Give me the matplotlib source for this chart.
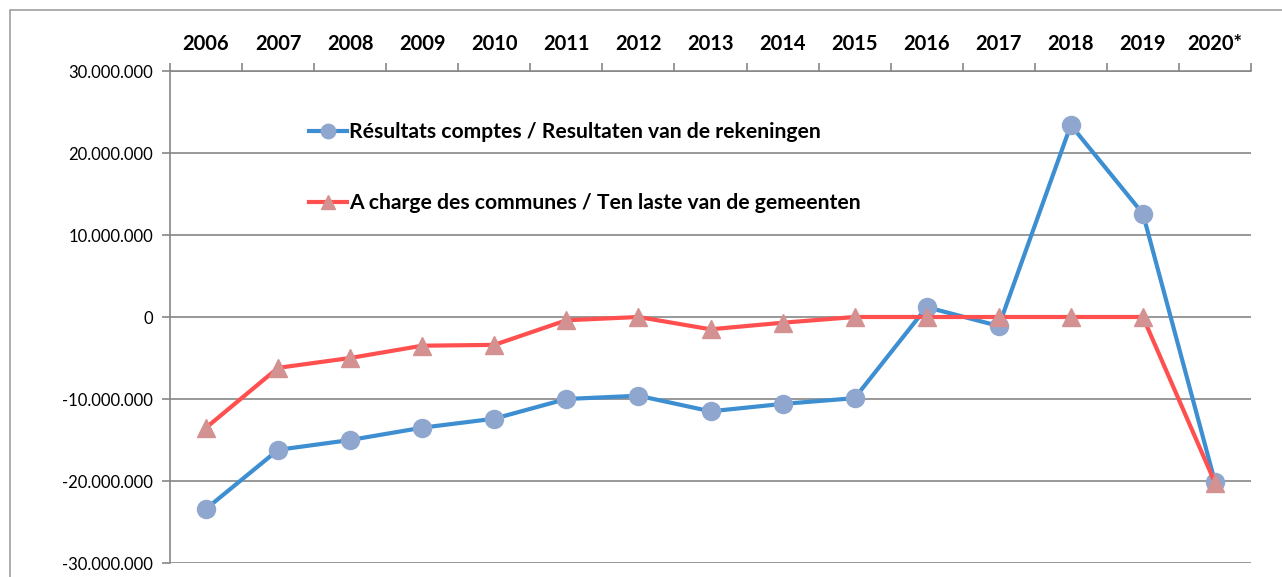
import matplotlib
matplotlib.use('Agg')
import matplotlib.pyplot as plt
from matplotlib.patches import Rectangle
from matplotlib.ticker import FuncFormatter, FixedLocator

plt.rcParams['font.family'] = ['Lato', 'DejaVu Sans']

YEARS = ['2006', '2007', '2008', '2009', '2010', '2011', '2012', '2013', '2014',
         '2015', '2016', '2017', '2018', '2019', '2020*']
RESULTATS = [-23.4e6, -16.2e6, -15.0e6, -13.5e6, -12.4e6, -10.0e6, -9.6e6, -11.5e6,
             -10.6e6, -9.9e6, 1.2e6, -1.1e6, 23.4e6, 12.6e6, -20.1e6]
COMMUNES = [-13.5e6, -6.2e6, -5.0e6, -3.5e6, -3.4e6, -0.4e6, 0.0, -1.5e6,
            -0.7e6, 0.0, 0.0, 0.0, 0.0, 0.0, -20.2e6]
LABEL_RES = 'Résultats comptes / Resultaten van de rekeningen'
LABEL_COM = 'A charge des communes / Ten laste van de gemeenten'

GRID = '#868686'


def thousands(v, pos):
    return f'{int(round(v)):,}'.replace(',', '.')


def main():
    fig = plt.figure(figsize=(12.82, 5.77), dpi=100)
    fig.patches.append(Rectangle((10 / 1282, -0.1), 1.2, 1 - 10 / 577 + 0.1,
                                 transform=fig.transFigure, fill=False,
                                 edgecolor='#a0a0a0', linewidth=1.2))
    ax = fig.add_axes([170 / 1282, 1 - 563 / 577, (1251 - 170) / 1282, (563 - 71) / 577])

    x = list(range(len(YEARS)))
    ax.plot(x, RESULTATS, color='#3d8fd1', lw=3, marker='o', ms=13,
            mfc='#8fa6cf', mec='#8fa6cf', label=LABEL_RES, zorder=3)
    ax.plot(x, COMMUNES, color='#ff4f4f', lw=3, marker='^', ms=13,
            mfc='#d49191', mec='#d49191', label=LABEL_COM, zorder=4)

    ax.set_xlim(-0.5, len(YEARS) - 0.5)
    ax.set_ylim(-30e6, 30e6)
    ax.set_yticks([-30e6, -20e6, -10e6, 0, 10e6, 20e6, 30e6])
    ax.yaxis.set_major_formatter(FuncFormatter(thousands))
    ax.grid(axis='y', color=GRID, lw=1.2)
    ax.set_axisbelow(True)

    ax.xaxis.tick_top()
    ax.set_xticks(x)
    ax.set_xticklabels(YEARS, fontweight='bold', fontsize=14.5)
    ax.xaxis.set_minor_locator(FixedLocator([i - 0.5 for i in range(len(YEARS) + 1)]))
    ax.tick_params(axis='x', which='major', length=0, pad=12)
    ax.tick_params(axis='x', which='minor', length=6, color=GRID, width=1.2, direction='out')
    ax.tick_params(axis='y', length=6, color=GRID, width=1.2, labelsize=12, pad=6)

    for s in ('right', 'bottom'):
        ax.spines[s].set_visible(False)
    for s in ('left', 'top'):
        ax.spines[s].set_color(GRID)
        ax.spines[s].set_linewidth(1.2)

    ax.legend(loc='upper left', bbox_to_anchor=(0.111, 0.935), frameon=False,
              prop={'weight': 'bold', 'size': 15.2}, handlelength=1.8,
              handletextpad=0.1, labelspacing=2.42, markerscale=0.8)
    plt.savefig('out.png', dpi=100)


if __name__ == '__main__':
    main()
